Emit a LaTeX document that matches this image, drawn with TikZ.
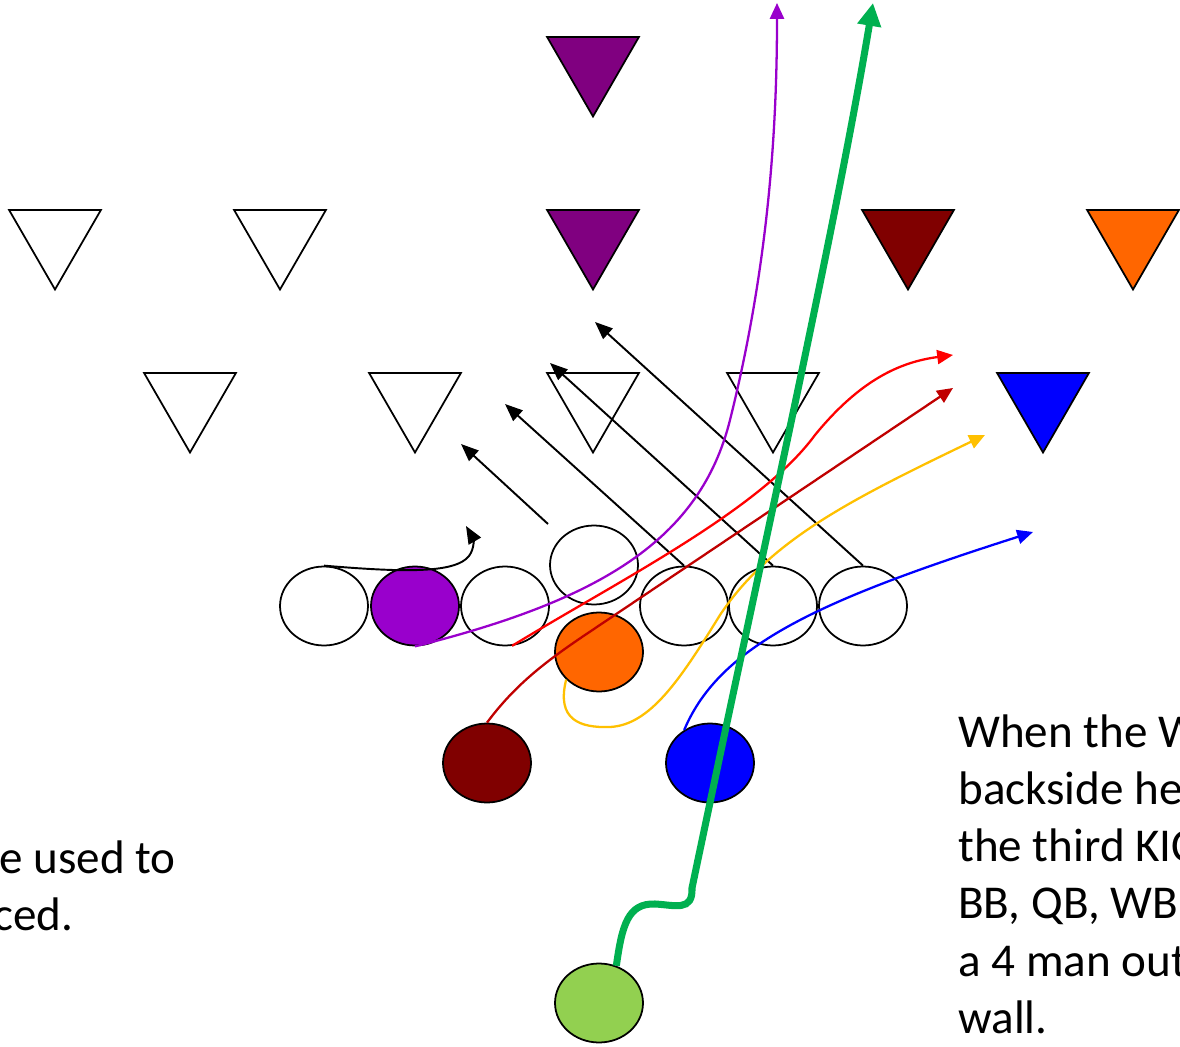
\documentclass[tikz,border=0pt]{standalone}
\usepackage{fontspec}
\setmainfont{Carlito}
\usepackage{xcolor}
\usepackage{tikz}
\usetikzlibrary{shapes.geometric, arrows.meta, calc}

\definecolor{dpurple}{HTML}{800080}
\definecolor{ppurple}{HTML}{9900CC}
\definecolor{dmaroon}{HTML}{800000}
\definecolor{dorange}{HTML}{FF6600}
\definecolor{dred}{HTML}{C00000}
\definecolor{gold}{HTML}{FFC000}
\definecolor{lgreen}{HTML}{92D050}
\definecolor{rgreen}{HTML}{00B050}

\begin{document}
\begin{tikzpicture}[
      x=0.02cm, y=-0.02cm,
      player/.style={ellipse, draw, line width=1pt, minimum width=1.76cm, minimum height=1.58cm, inner sep=0pt},
      defender/.style={regular polygon, regular polygon sides=3, shape border rotate=180, draw, line width=1pt, minimum size=2.12cm, inner sep=0pt},
      block/.style={line width=1.1pt, -{Triangle[length=10pt, width=8pt]}},
      route/.style={line width=1.3pt, -{Triangle[length=9pt, width=8pt]}},
      note/.style={font=\fontsize{26.8}{33}\selectfont, inner sep=0pt, anchor=base west}
    ]
      \useasboundingbox (0,0) rectangle (1180,1047);
      \clip (0,0) rectangle (1180,1047);

      % Defence
      \node[defender, fill=dpurple] (fs) at (593,63.5) {};
      \node[defender] (db1) at (55,236.5) {};
      \node[defender] (db2) at (280,236.5) {};
      \node[defender, fill=dpurple] (db3) at (593,236.5) {};
      \node[defender, fill=dmaroon] (db4) at (908,236.5) {};
      \node[defender, fill=dorange] (db5) at (1133,236.5) {};
      \node[defender] (lb1) at (190,399.5) {};
      \node[defender] (lb2) at (415,399.5) {};
      \node[defender] (lb3) at (593,399.5) {};
      \node[defender] (lb4) at (773,399.5) {};
      \node[defender, fill=blue] (lb5) at (1043,399.5) {};

      % Offence
      \node[player] (ol1) at (324,606) {};
      \node[player, fill=ppurple] (ol2) at (415,606) {};
      \node[player] (ol3) at (505,606) {};
      \node[player] (ol4) at (684,606) {};
      \node[player] (ol5) at (773,606) {};
      \node[player] (ol6) at (863,606) {};
      \node[player] (ctr) at (594,565) {};
      \node[player, fill=dorange] (qb) at (599,652) {};
      \node[player, fill=dmaroon] (bb) at (487,763) {};
      \node[player, fill=blue] (wb) at (710,763) {};
      \node[player, fill=lgreen] (tb) at (599,1003) {};

      % Blocks
      \coordinate (cs) at (548,524);
      \coordinate (k0) at (466,526);
      \coordinate (k1) at (461,444);
      \coordinate (k2) at (505,404);
      \coordinate (k3) at (550,363);
      \coordinate (k4) at (595,322);
      \draw[block] (cs) -- (k1);
      \draw[block] (ol4.north) -- (k2);
      \draw[block] (ol5.north) -- (k3);
      \draw[block] (ol6.north) -- (k4);
      \draw[block] (ol1.north) .. controls (400,572) and (455,574) .. (469,556) .. controls (475,548) and (473,538) .. (k0);

      % Routes
      \coordinate (p1) at (777,3);
      \coordinate (r1) at (953,355);
      \coordinate (r2) at (953,388);
      \coordinate (y1) at (985,435);
      \coordinate (w1) at (1033,532);
      \coordinate (g1) at (873,3);
      \draw[route, ppurple] (ol2.south) .. controls (600,600) and (700,540) .. (730,420) .. controls (770,260) and (777,120) .. (p1);
      \draw[route, red] (ol3.-80) .. controls (620,580) and (760,510) .. (815,435) .. controls (860,380) and (900,362) .. (r1);
      \draw[route, dred] (bb.north) .. controls (515,685) and (545,662) .. (585,635) -- (r2);
      \draw[route, gold] (qb.220) .. controls (556,720) and (580,728) .. (610,727) .. controls (650,725) and (680,680) .. (720,615) .. controls (770,540) and (850,500) .. (y1);
      \draw[route, blue] (wb.128) .. controls (720,645) and (820,600) .. (w1);
      \draw[line width=4pt, rgreen, -{Triangle[length=13pt, width=13pt]}] (tb.65) .. controls (622,925) and (628,903) .. (655,904) .. controls (675,905) and (693,912) .. (692,888) .. controls (765,540) and (835,230) .. (g1);

      % Notes
      \node[note] (l0) at (-1,873) {e used to};
      \node[note] (l1) at (-7,930) {ced.};
      \foreach \txt [count=\i from 0] in {{When the W}, {backside he}, {the third KIC}, {BB, QB, WB}, {a 4 man out}, {wall.}}
        \node[note] (r\i) at (958, 747+57.3*\i) {\txt};
    \end{tikzpicture}
\end{document}
